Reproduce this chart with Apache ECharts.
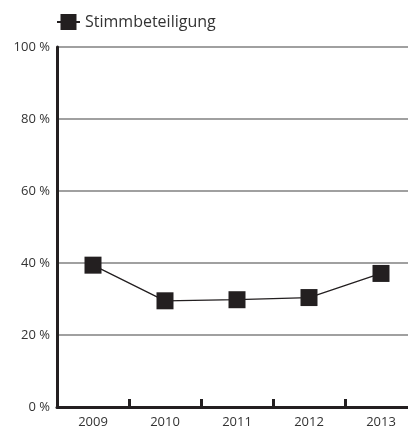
<!DOCTYPE html>
<html><head><meta charset="utf-8">
<script src="https://cdn.jsdelivr.net/npm/echarts@6/dist/echarts.min.js"></script>
<style>html,body{margin:0;padding:0;background:#fff}#c{width:408px;height:427px}</style>
</head><body><div id="c"></div>
<script>
const years = ['2009','2010','2011','2012','2013'];
const turnout = [39.4, 29.5, 29.8, 30.4, 37.1];
const seriesName = 'Stimmbeteiligung';
const yTicks = [0, 20, 40, 60, 80, 100];

const chart = echarts.init(document.getElementById('c'));
chart.setOption({
  animation: false,
  textStyle: {fontFamily: 'Open Sans'},
  legend: {
    left: 51, top: 9, itemWidth: 23, itemHeight: 20, itemGap: 6,
    textStyle: {fontSize: 16, color: '#333', fontFamily: 'Open Sans'},
    data: [seriesName]
  },
  grid: {left: 57, top: 47, width: 360, height: 360, containLabel: false, outerBoundsMode: 'none'},
  xAxis: {
    type: 'category', data: years, boundaryGap: true,
    axisLine: {lineStyle: {color: '#231f20', width: 3}},
    axisTick: {show: true, inside: true, length: 8, lineStyle: {color: '#231f20', width: 3}},
    axisLabel: {fontSize: 13, color: '#333', margin: 9, fontFamily: 'Open Sans'},
    splitLine: {show: false}
  },
  yAxis: {
    type: 'value', min: 0, max: 100, interval: 20,
    axisLine: {show: true, lineStyle: {color: '#231f20', width: 3}},
    axisTick: {show: false},
    axisLabel: {fontSize: 13, color: '#333', margin: 7, fontFamily: 'Open Sans',
      formatter: v => yTicks.includes(v) ? v + ' %' : ''},
    splitLine: {show: true, lineStyle: {color: '#a0a0a0', width: 2}}
  },
  series: [{
    name: seriesName, type: 'line', data: turnout,
    symbol: 'rect', symbolSize: 17,
    itemStyle: {color: '#231f20'},
    lineStyle: {color: '#231f20', width: 1.3}
  }]
});
</script></body></html>
